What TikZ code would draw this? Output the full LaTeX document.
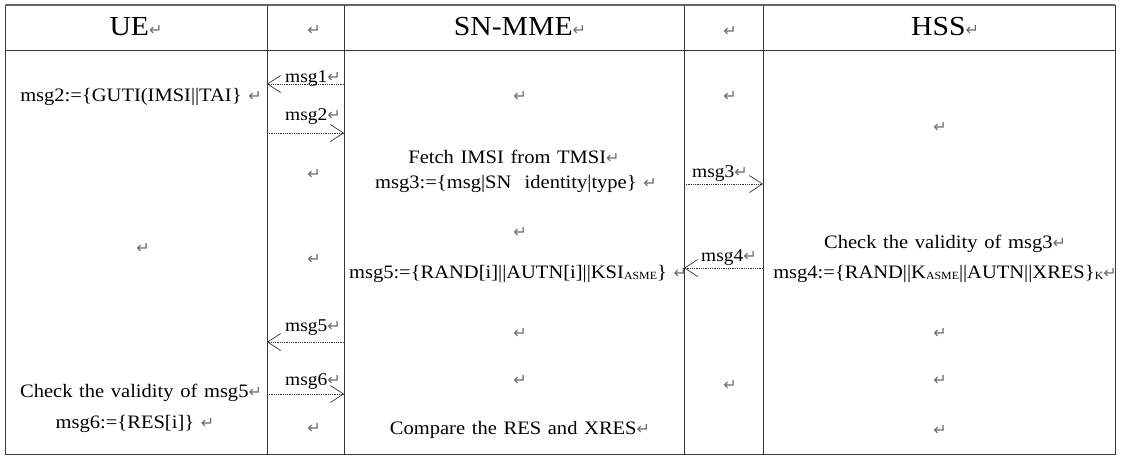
\documentclass[tikz,border=0pt]{standalone}
\usepackage{fontspec}
\setmainfont[FakeStretch=1.08, WordSpace=1.3]{Liberation Serif}
\newfontfamily\retfont{DejaVu Sans}
\usetikzlibrary{arrows.meta}
\definecolor{retgray}{RGB}{110,110,110}
\definecolor{linegray}{RGB}{55,55,55}
\newcommand{\rt}{{\retfont\fontsize{16}{16}\selectfont\textcolor{retgray}{↵}}}
\newcommand{\sm}[1]{\raisebox{-1pt}{\fontsize{11}{11}\selectfont #1}}
\tikzset{
  txt/.style={inner sep=0pt, anchor=center, font=\fontsize{19}{22}\selectfont},
  head/.style={inner sep=0pt, anchor=center, font=\fontsize{27.5}{30}\selectfont},
  lbl/.style={inner sep=0pt, anchor=center, font=\fontsize{18}{20}\selectfont},
  ret/.style={inner sep=0pt, anchor=center},
  grid/.style={draw=linegray, line width=0.9pt},
  msgarrow/.style={densely dotted, line width=0.8pt, draw=black!80,
    -{Straight Barb[length=13pt,width=17pt,line width=0.7pt]}}
}
\begin{document}
\begin{tikzpicture}[x=1pt,y=-1pt]
\useasboundingbox (0,0) rectangle (1122,456);
% table
\draw[grid] (5,5) rectangle (1115,454);
\draw[grid, line width=2pt, draw=black!60] (5,5) -- (1115,5);
\draw[grid] (5,50) -- (1115,50);
\foreach \x in {267,344,684,763} \draw[grid] (\x,5) -- (\x,454);
% header
\node[head] (hUE) at (136,27) {UE\rt};
\node[ret] (hC2) at (314,30) {\rt};
\node[head] (hSN) at (520,27) {SN-MME\rt};
\node[ret] (hC4) at (730,31) {\rt};
\node[head] (hHSS) at (945,27) {HSS\rt};
% column 1
\node[txt] (u1) at (141,97) {msg2:=\{GUTI(IMSI||TAI\} \rt};
\node[ret] (u2) at (143,248) {\rt};
\node[txt] (u3) at (141,393) {Check the validity of msg5\rt};
\node[txt] (u4) at (135,424) {msg6:=\{RES[i]\} \rt};
% column 2
\node[lbl] (l1) at (313,78) {msg1\rt};
\node[lbl] (l2) at (313,116) {msg2\rt};
\node[ret] (c2a) at (314,174) {\rt};
\node[ret] (c2b) at (314,259) {\rt};
\node[lbl] (l5) at (313,328) {msg5\rt};
\node[lbl] (l6) at (313,381) {msg6\rt};
\node[ret] (c2c) at (314,428) {\rt};
\coordinate (a1s) at (344,84);  \coordinate (a1e) at (267,84);
\coordinate (a2s) at (267,133); \coordinate (a2e) at (344,133);
\coordinate (a5s) at (344,342); \coordinate (a5e) at (267,342);
\coordinate (a6s) at (267,394); \coordinate (a6e) at (344,394);
\draw[msgarrow] (a1s) -- (a1e);
\draw[msgarrow] (a2s) -- (a2e);
\draw[msgarrow] (a5s) -- (a5e);
\draw[msgarrow] (a6s) -- (a6e);
% column 3
\node[ret] (s1) at (520,96) {\rt};
\node[txt] (s2) at (514,157) {Fetch IMSI from TMSI\rt};
\node[txt] (s3) at (516,184) {msg3:=\{msg|SN\ \ identity|type\} \rt};
\node[ret] (s4) at (520,232) {\rt};
\node[txt] (s5) at (518,274) {msg5:=\{RAND[i]||AUTN[i]||KSI\sm{ASME}\} \rt};
\node[ret] (s6) at (520,333) {\rt};
\node[ret] (s7) at (520,380) {\rt};
\node[txt] (s8) at (520,430) {Compare the RES and XRES\rt};
% column 4
\node[ret] (c4a) at (730,96) {\rt};
\node[lbl] (l3) at (720,173) {msg3\rt};
\node[lbl] (l4) at (729,258) {msg4\rt};
\node[ret] (c4b) at (730,385) {\rt};
\coordinate (a3s) at (684,184); \coordinate (a3e) at (763,184);
\coordinate (a4s) at (763,268); \coordinate (a4e) at (684,268);
\draw[msgarrow] (a3s) -- (a3e);
\draw[msgarrow] (a4s) -- (a4e);
% column 5
\node[ret] (h1) at (940,127) {\rt};
\node[txt] (h2) at (945,244) {Check the validity of msg3\rt};
\node[txt] (h3) at (945,274) {msg4:=\{RAND||K\sm{ASME}||AUTN||XRES\}\sm{K}\rt};
\node[ret] (h4) at (940,333) {\rt};
\node[ret] (h5) at (940,380) {\rt};
\node[ret] (h6) at (940,430) {\rt};
\end{tikzpicture}
\end{document}
